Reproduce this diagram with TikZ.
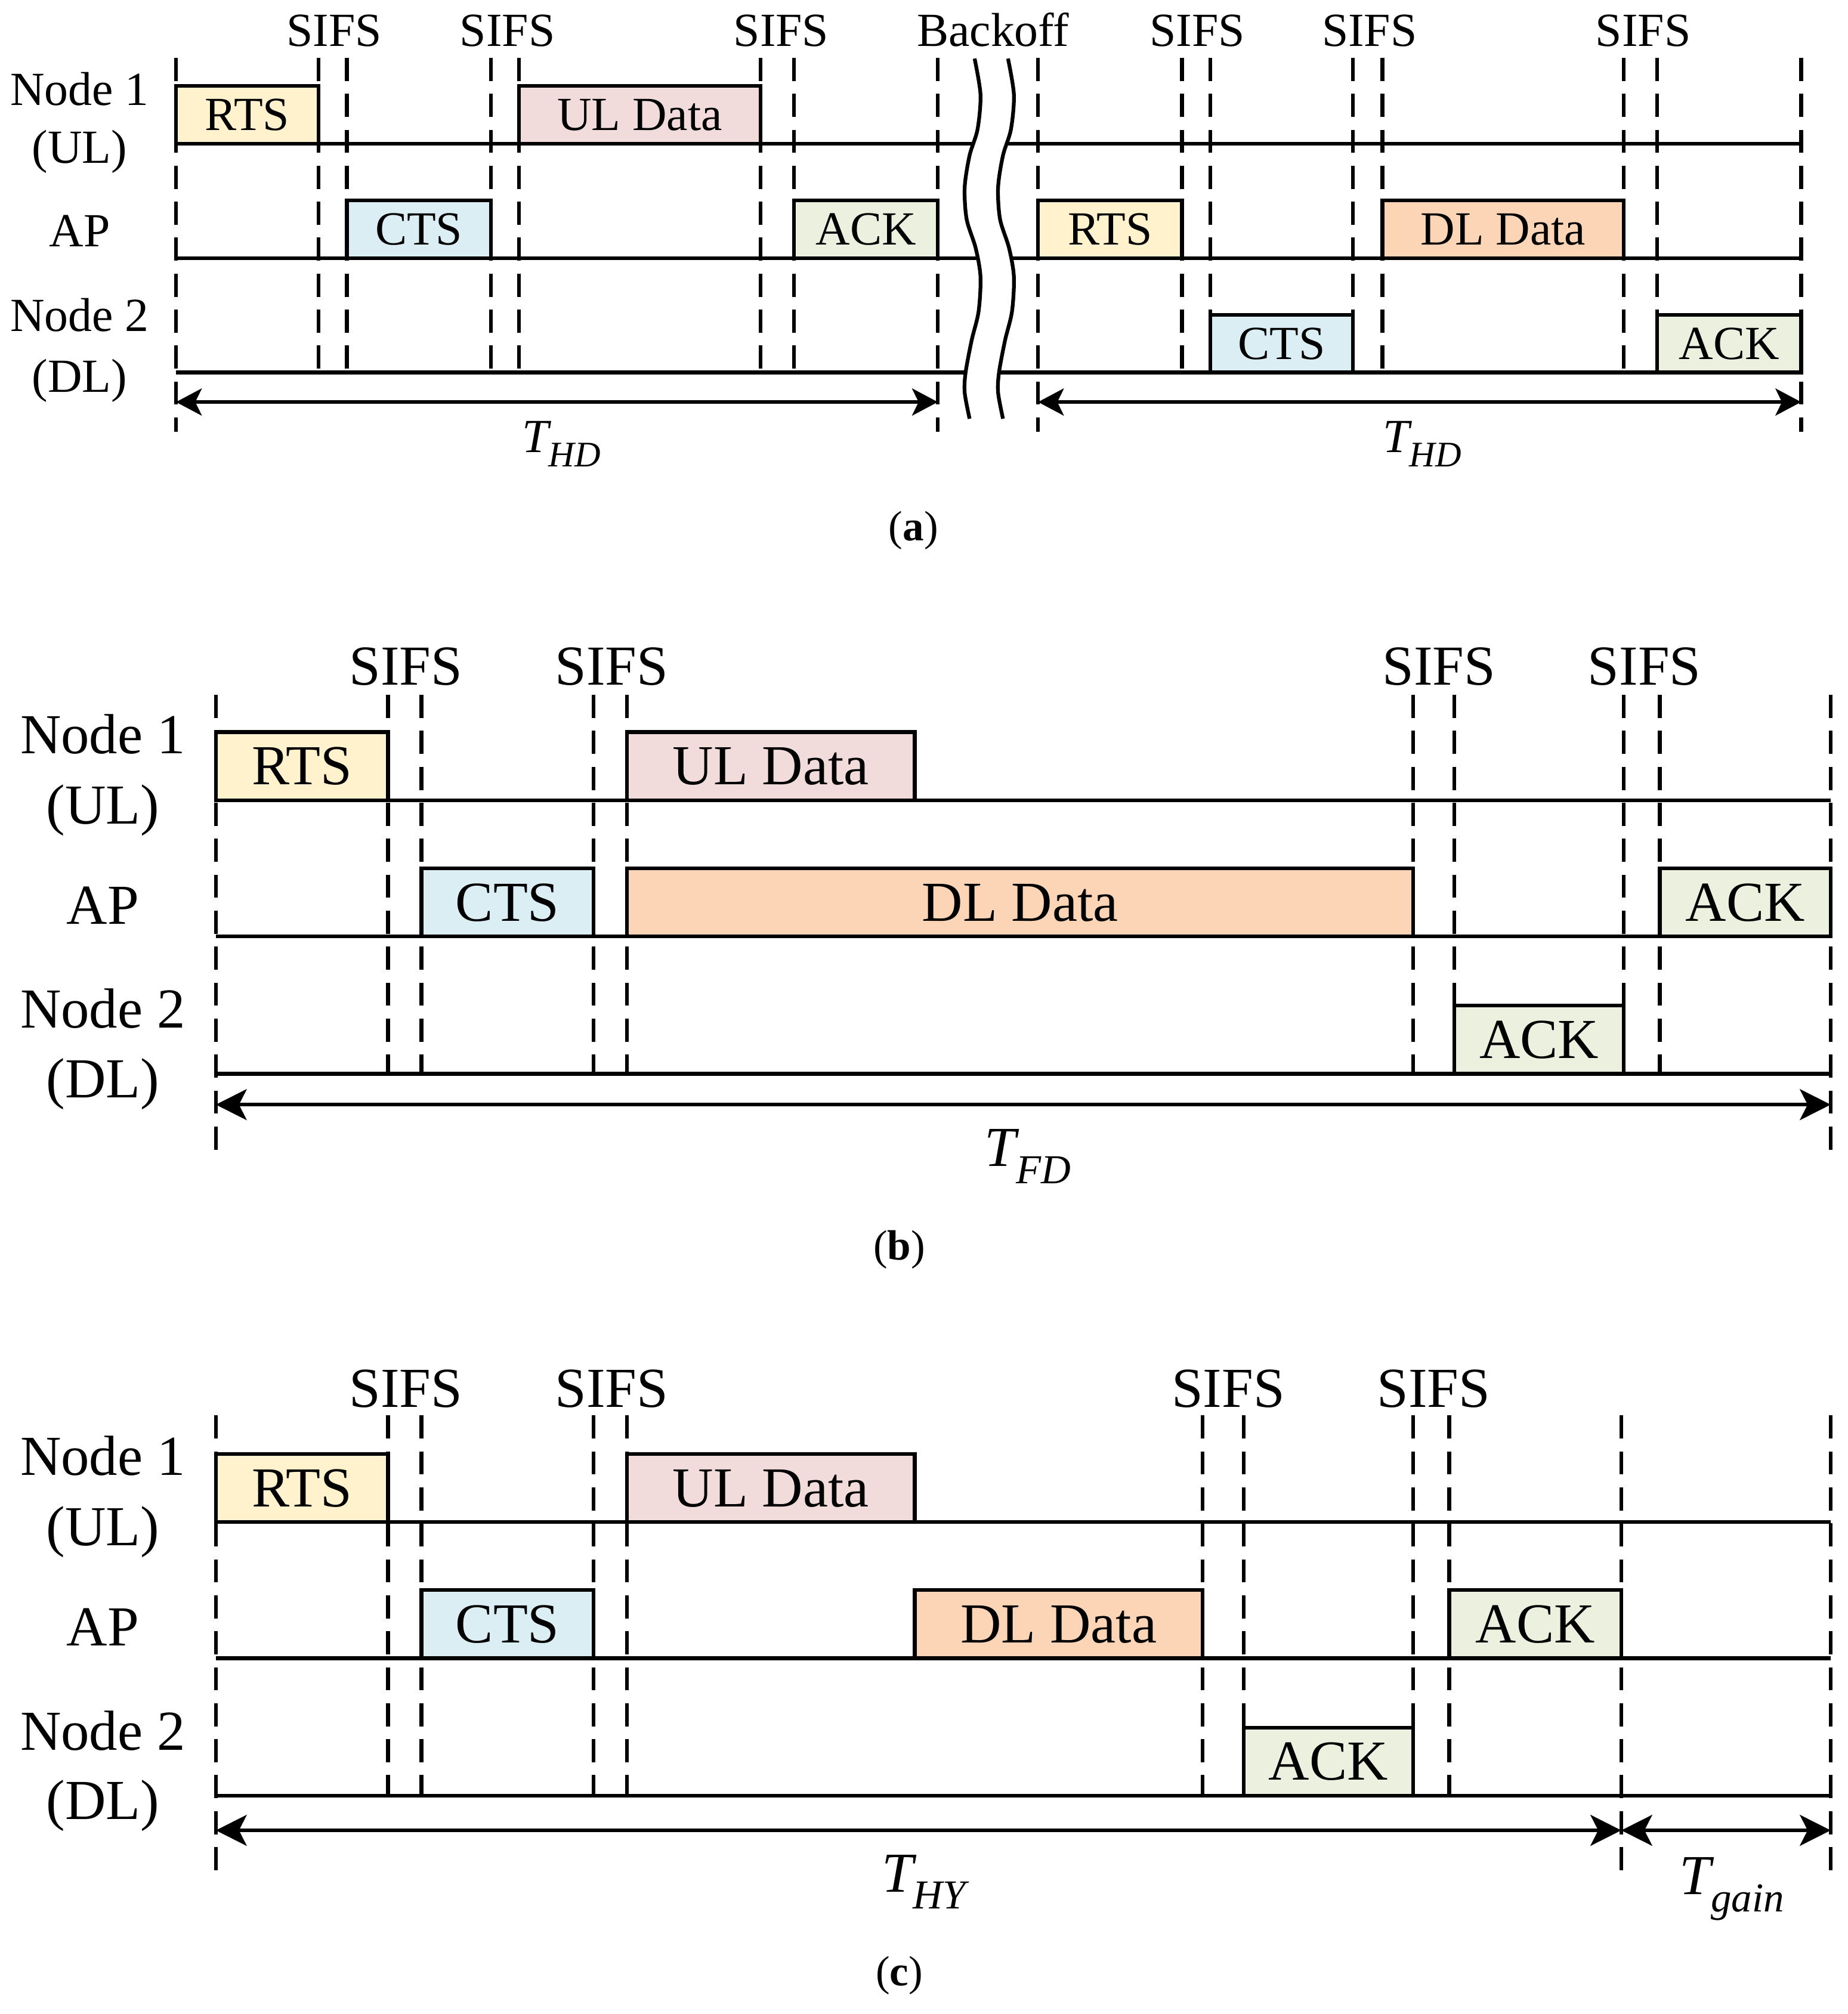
\documentclass[tikz,border=0pt]{standalone}
\usepackage{fontspec}
\setmainfont{Liberation Serif}
\usetikzlibrary{arrows.meta}
\definecolor{rtsfill}{HTML}{FFF2CC}
\definecolor{ctsfill}{HTML}{DAEEF3}
\definecolor{ulfill}{HTML}{F2DCDB}
\definecolor{dlfill}{HTML}{FBD5B5}
\definecolor{ackfill}{HTML}{EBF1DE}
\newcommand{\tlab}[3]{\fontsize{#1}{#1}\selectfont\itshape T\raisebox{-0.3em}{\fontsize{#2}{#2}\selectfont #3}}

\begin{document}
\begin{tikzpicture}[x=1pt,y=-1pt,line width=2.9pt,
  pkt/.style={draw,inner sep=0pt,text depth=0pt},
  pa/.style={pkt,minimum height=45pt,text height=24.3pt,font=\fontsize{37pt}{37pt}\selectfont},
  pb/.style={pkt,minimum height=53pt,text height=28.9pt,font=\fontsize{44pt}{44pt}\selectfont},
  lbl/.style={inner sep=0pt,text depth=0pt},
  la/.style={lbl,text height=24.3pt,font=\fontsize{37pt}{37pt}\selectfont},
  lb/.style={lbl,text height=28.9pt,font=\fontsize{44pt}{44pt}\selectfont},
  sifsline/.style={dash pattern=on 18pt off 10pt},
  spana/.style={<->,>={Stealth[length=20pt,width=21pt,inset=5pt]}},
  spanb/.style={<->,>={Stealth[length=24pt,width=24pt,inset=6pt]}},
  capt/.style={anchor=base,inner sep=0pt,font=\fontsize{33pt}{33pt}\selectfont}]
  \fill[white] (0,0) rectangle (1438,1568);
  \useasboundingbox (0,0) rectangle (1438,1568);

  % ---------------- (a) half duplex ----------------
  \draw[sifsline] (137,45) -- (137,336) (730,45) -- (730,336) (808,45) -- (808,336) (1402,45) -- (1402,336)
    (248,45) -- (248,290) (270,45) -- (270,290) (382,45) -- (382,290) (404,45) -- (404,290)
    (592,45) -- (592,290) (618,45) -- (618,290) (920,45) -- (920,290) (942,45) -- (942,290)
    (1053,45) -- (1053,290) (1076,45) -- (1076,290) (1264,45) -- (1264,290) (1290,45) -- (1290,290);
  \draw (137,112) -- (757.4,112) (783.4,112) -- (1402,112);
  \draw (137,201) -- (760.7,201) (786.7,201) -- (1402,201);
  \draw (137,290) -- (751.6,290) (777.6,290) -- (1402,290);
  \draw plot[smooth] coordinates {(758.6,45.6) (763.2,73.7) (760.9,100.7) (754.7,121) (750.9,145.8)
    (752.4,170.6) (759.4,193) (763.2,215.6) (761.7,242.6) (756.3,265) (751.6,290) (750.9,305.7) (754.7,326)};
  \draw[xshift=26pt] plot[smooth] coordinates {(758.6,45.6) (763.2,73.7) (760.9,100.7) (754.7,121) (750.9,145.8)
    (752.4,170.6) (759.4,193) (763.2,215.6) (761.7,242.6) (756.3,265) (751.6,290) (750.9,305.7) (754.7,326)};

  \node[pa,fill=rtsfill,minimum width=111pt] (a-rts1) at (192.5,89.5) {RTS};
  \node[pa,fill=ctsfill,minimum width=112pt] (a-cts1) at (326,178.5) {CTS};
  \node[pa,fill=ulfill,minimum width=188pt] (a-ul) at (498,89.5) {UL Data};
  \node[pa,fill=ackfill,minimum width=112pt] (a-ack1) at (674,178.5) {ACK};
  \node[pa,fill=rtsfill,minimum width=112pt] (a-rts2) at (864,178.5) {RTS};
  \node[pa,fill=ctsfill,minimum width=111pt] (a-cts2) at (997.5,267.5) {CTS};
  \node[pa,fill=dlfill,minimum width=188pt] (a-dl) at (1170,178.5) {DL Data};
  \node[pa,fill=ackfill,minimum width=112pt] (a-ack2) at (1346,267.5) {ACK};

  \node[la] (a-n1) at (62,70) {Node 1};
  \node[la] (a-ul-l) at (62,115) {(UL)};
  \node[la] (a-ap) at (62,180) {AP};
  \node[la] (a-n2) at (62,246) {Node 2};
  \node[la] (a-dl-l) at (62,293) {(DL)};
  \node[la] (a-s1) at (260,24) {SIFS};
  \node[la] (a-s2) at (395,24) {SIFS};
  \node[la] (a-s3) at (608,24) {SIFS};
  \node[la] (a-bo) at (773,24) {Backoff};
  \node[la] (a-s4) at (932,24) {SIFS};
  \node[la] (a-s5) at (1066,24) {SIFS};
  \node[la] (a-s6) at (1279,24) {SIFS};

  \coordinate (a-t0) at (137,313);
  \coordinate (a-t1) at (730,313);
  \coordinate (a-t2) at (808,313);
  \coordinate (a-t3) at (1402,313);
  \draw[spana] (a-t0) -- (a-t1);
  \draw[spana] (a-t2) -- (a-t3);
  \node[anchor=base,inner sep=0pt] (a-thd1) at (437,352) {\tlab{37pt}{28pt}{HD}};
  \node[anchor=base,inner sep=0pt] (a-thd2) at (1107,352) {\tlab{37pt}{28pt}{HD}};
  \node[capt] (a-cap) at (711,421) {(\textbf{a})};

  % ---------------- (b) full duplex ----------------
  \draw[sifsline] (168,541) -- (168,900) (1425,541) -- (1425,900)
    (302,541) -- (302,836) (328,541) -- (328,836) (462,541) -- (462,836) (488,541) -- (488,836)
    (1100,541) -- (1100,836) (1132,541) -- (1132,836) (1264,541) -- (1264,836) (1292,541) -- (1292,836);
  \draw (168,623) -- (1425,623);
  \draw (168,729) -- (1425,729);
  \draw (168,836) -- (1425,836);

  \node[pb,fill=rtsfill,minimum width=134pt] (b-rts) at (235,596.5) {RTS};
  \node[pb,fill=ctsfill,minimum width=134pt] (b-cts) at (395,702.5) {CTS};
  \node[pb,fill=ulfill,minimum width=224pt] (b-ul) at (600,596.5) {UL Data};
  \node[pb,fill=dlfill,minimum width=612pt] (b-dl) at (794,702.5) {DL Data};
  \node[pb,fill=ackfill,minimum width=132pt] (b-ack1) at (1198,809.5) {ACK};
  \node[pb,fill=ackfill,minimum width=133pt] (b-ack2) at (1358.5,702.5) {ACK};

  \node[lb] (b-n1) at (80,572) {Node 1};
  \node[lb] (b-ul-l) at (80,627) {(UL)};
  \node[lb] (b-ap) at (80,705) {AP};
  \node[lb] (b-n2) at (80,786) {Node 2};
  \node[lb] (b-dl-l) at (80,840) {(DL)};
  \node[lb] (b-s1) at (316,519) {SIFS};
  \node[lb] (b-s2) at (476,519) {SIFS};
  \node[lb] (b-s3) at (1120,519) {SIFS};
  \node[lb] (b-s4) at (1280,519) {SIFS};

  \coordinate (b-t0) at (168,860);
  \coordinate (b-t1) at (1425,860);
  \draw[spanb] (b-t0) -- (b-t1);
  \node[anchor=base,inner sep=0pt] (b-tfd) at (800,908) {\tlab{44pt}{32pt}{FD}};
  \node[capt] (b-cap) at (700,981) {(\textbf{b})};

  % ---------------- (c) hybrid ----------------
  \draw[sifsline] (168,1102) -- (168,1462) (1262,1102) -- (1262,1462) (1425,1102) -- (1425,1462)
    (302,1102) -- (302,1398) (328,1102) -- (328,1398) (462,1102) -- (462,1398) (488,1102) -- (488,1398)
    (936,1102) -- (936,1398) (968,1102) -- (968,1398) (1100,1102) -- (1100,1398) (1128,1102) -- (1128,1398);
  \draw (168,1185) -- (1425,1185);
  \draw (168,1291) -- (1425,1291);
  \draw (168,1398) -- (1425,1398);

  \node[pb,fill=rtsfill,minimum width=134pt] (c-rts) at (235,1158.5) {RTS};
  \node[pb,fill=ulfill,minimum width=224pt] (c-ul) at (600,1158.5) {UL Data};
  \node[pb,fill=ctsfill,minimum width=134pt] (c-cts) at (395,1264.5) {CTS};
  \node[pb,fill=dlfill,minimum width=224pt] (c-dl) at (824,1264.5) {DL Data};
  \node[pb,fill=ackfill,minimum width=132pt] (c-ack1) at (1034,1371.5) {ACK};
  \node[pb,fill=ackfill,minimum width=134pt] (c-ack2) at (1195,1264.5) {ACK};

  \node[lb] (c-n1) at (80,1134) {Node 1};
  \node[lb] (c-ul-l) at (80,1189) {(UL)};
  \node[lb] (c-ap) at (80,1267) {AP};
  \node[lb] (c-n2) at (80,1348) {Node 2};
  \node[lb] (c-dl-l) at (80,1402) {(DL)};
  \node[lb] (c-s1) at (316,1081) {SIFS};
  \node[lb] (c-s2) at (476,1081) {SIFS};
  \node[lb] (c-s3) at (956,1081) {SIFS};
  \node[lb] (c-s4) at (1116,1081) {SIFS};

  \coordinate (c-t0) at (168,1425);
  \coordinate (c-t1) at (1262,1425);
  \coordinate (c-t2) at (1425,1425);
  \draw[spanb] (c-t0) -- (c-t1);
  \draw[spanb] (c-t1) -- (c-t2);
  \node[anchor=base,inner sep=0pt] (c-thy) at (719,1473) {\tlab{44pt}{32pt}{HY}};
  \node[anchor=base,inner sep=0pt] (c-tgain) at (1348,1475) {\tlab{44pt}{32pt}{gain}};
  \node[capt] (c-cap) at (700,1546) {(\textbf{c})};
\end{tikzpicture}
\end{document}
